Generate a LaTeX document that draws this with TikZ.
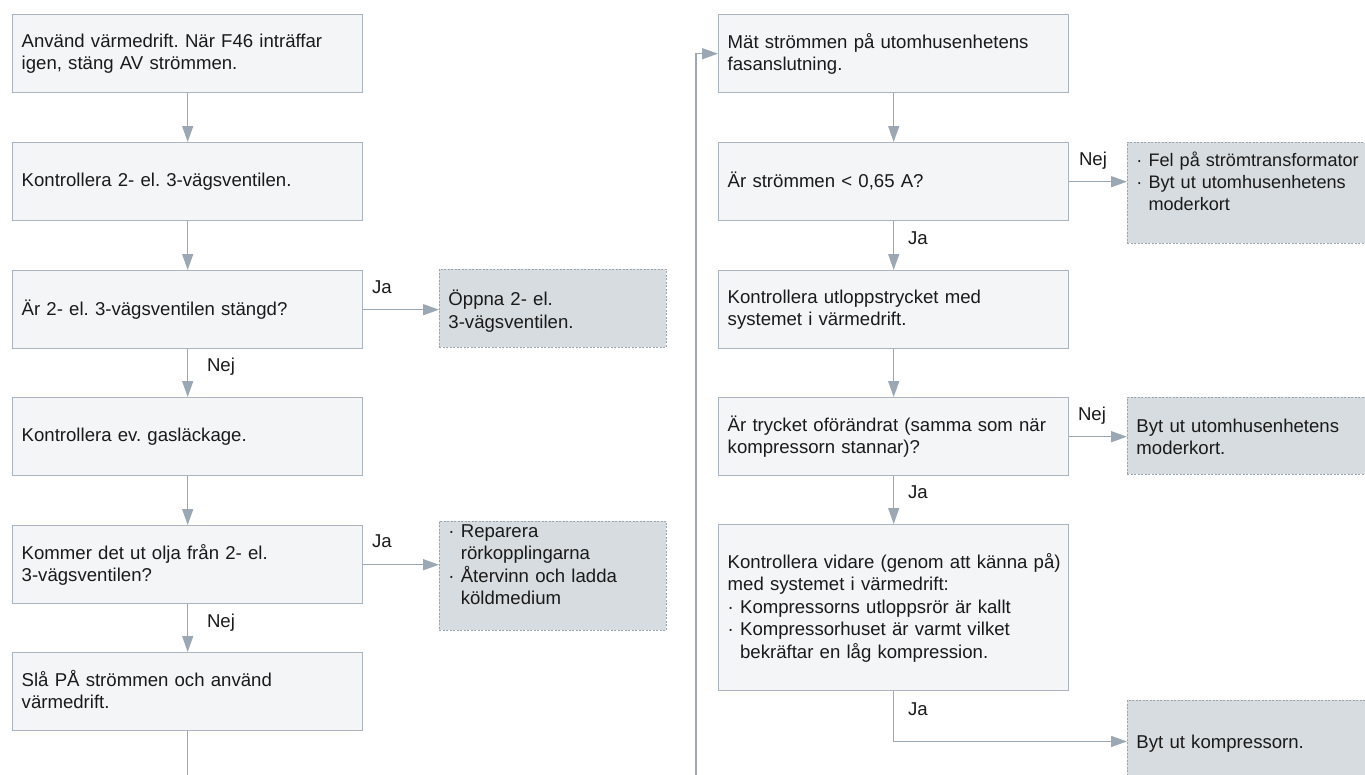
\documentclass[tikz,border=0pt]{standalone}
\usepackage{fontspec}
\setmainfont{Liberation Sans}
\usetikzlibrary{arrows.meta}
\frenchspacing
\hyphenpenalty=10000
\exhyphenpenalty=10000

\definecolor{boxfill}{HTML}{F4F5F7}
\definecolor{boxline}{HTML}{AAB5BF}
\definecolor{notefill}{HTML}{D6DCE0}
\definecolor{noteline}{HTML}{9AA4AD}
\definecolor{flow}{HTML}{9BA8B4}
\definecolor{ink}{HTML}{1A1A1A}

% strut that fixes where a line sits inside a process box
\newcommand{\boxstrut}{\rule[-4pt]{0pt}{18pt}}

\begin{document}
\begin{tikzpicture}[x=1pt,y=-1pt,
  font=\fontsize{18.6}{22.3}\selectfont, text=ink,
  stepbox/.style={draw=boxline, fill=boxfill, line width=1.4pt,
    anchor=north west, minimum height=78pt, text width=332pt,
    inner xsep=9pt, inner ysep=0pt, align=left,
    execute at begin node=\boxstrut, execute at end node=\boxstrut},
  notebox/.style={draw=noteline, fill=notefill, line width=0.9pt,
    dash pattern=on 2pt off 1.5pt, anchor=north west,
    inner xsep=9pt, inner ysep=0pt, align=left},
  flowline/.style={draw=flow, line width=1.5pt,
    -{Triangle[length=16pt,width=11pt]}},
  plainline/.style={draw=flow, line width=1.5pt},
  lbl/.style={inner sep=0pt, anchor=base}]

\useasboundingbox (0,0) rectangle (1365,774);
\clip (0,0) rectangle (1365,774);

% left column
\node[stepbox] (s1) at (12,14) {Använd värmedrift. När F46 inträffar\\igen, stäng AV strömmen.};
\node[stepbox] (s2) at (12,142) {Kontrollera 2- el. 3-vägsventilen.};
\node[stepbox] (s3) at (12,270) {Är 2- el. 3-vägsventilen stängd?};
\node[stepbox] (s4) at (12,397) {Kontrollera ev. gasläckage.};
\node[stepbox] (s5) at (12,525) {Kommer det ut olja från 2- el.\\3-vägsventilen?};
\node[stepbox] (s6) at (12,652) {Slå PÅ strömmen och använd\\värmedrift.};

% right column
\node[stepbox] (r1) at (718,14) {Mät strömmen på utomhusenhetens\\fasanslutning.};
\node[stepbox] (r2) at (718,142) {Är strömmen < 0,65 A?};
\node[stepbox] (r3) at (718,270) {Kontrollera utloppstrycket med\\systemet i värmedrift.};
\node[stepbox] (r4) at (718,397) {\mbox{Är trycket oförändrat (samma som när}\\kompressorn stannar)?};
\node[stepbox, minimum height=166pt, font=\fontsize{18.6}{22.6}\selectfont] (r5) at (718,524) {\mbox{Kontrollera vidare (genom att känna på)}\\med systemet i värmedrift:\\· Kompressorns utloppsrör är kallt\\· Kompressorhuset är varmt vilket\\\phantom{· }bekräftar en låg kompression.};

% outcome boxes
\node[notebox, text width=209pt, text height=36.5pt, text depth=41.5pt] (n1) at (439,269) {Öppna 2- el.\\3-vägsventilen.};
\node[notebox, text width=209pt, text height=16pt, text depth=93pt] (n2) at (439,521) {· Reparera\\\phantom{· }rörkopplingarna\\· Återvinn och ladda\\\phantom{· }köldmedium};
\node[notebox, text width=221pt, text height=24pt, text depth=77pt, font=\fontsize{18.1}{22}\selectfont] (n3) at (1127,142) {\mbox{· Fel på strömtransformator}\\· Byt ut utomhusenhetens\\\phantom{· }moderkort};
\node[notebox, text width=221pt, text height=34.7pt, text depth=42.3pt] (n4) at (1127,397) {Byt ut utomhusenhetens\\moderkort.};
\node[notebox, text width=221pt, text height=47.7pt, text depth=34.3pt] (n5) at (1127,700) {Byt ut kompressorn.};

% loose ends at the page foot
\coordinate (leftfoot) at (s6.south |- 0,790);
\coordinate (loopfoot) at (696,790);

% connectors
\draw[flowline] (s1.south) -- (s2.north);
\draw[flowline] (s2.south) -- (s3.north);
\draw[flowline] (s3.south) -- (s4.north);
\draw[flowline] (s4.south) -- (s5.north);
\draw[flowline] (s5.south) -- (s6.north);
\draw[plainline] (s6.south) -- (leftfoot);
\draw[flowline] (s3.east) -- (s3.east -| n1.west);
\draw[flowline] (s5.east) -- (s5.east -| n2.west);

\draw[flowline] (loopfoot) |- (r1.west);
\draw[flowline] (r1.south) -- (r2.north);
\draw[flowline] (r2.south) -- (r3.north);
\draw[flowline] (r3.south) -- (r4.north);
\draw[flowline] (r4.south) -- (r5.north);
\draw[flowline] (r2.east) -- (r2.east -| n3.west);
\draw[flowline] (r4.east) -- (r4.east -| n4.west);
\draw[flowline] (r5.south) |- (n5.west);

% branch labels
\node[lbl] (ja1) at (382,293.5) {Ja};
\node[lbl] (nej1) at (221,371.7) {Nej};
\node[lbl] (ja2) at (382,547.7) {Ja};
\node[lbl] (nej2) at (221,627.7) {Nej};
\node[lbl] (nej3) at (1093,165.7) {Nej};
\node[lbl] (ja3) at (918,244.3) {Ja};
\node[lbl] (nej4) at (1092,420.7) {Nej};
\node[lbl] (ja4) at (918,498.3) {Ja};
\node[lbl] (ja5) at (918,715) {Ja};
\end{tikzpicture}
\end{document}
